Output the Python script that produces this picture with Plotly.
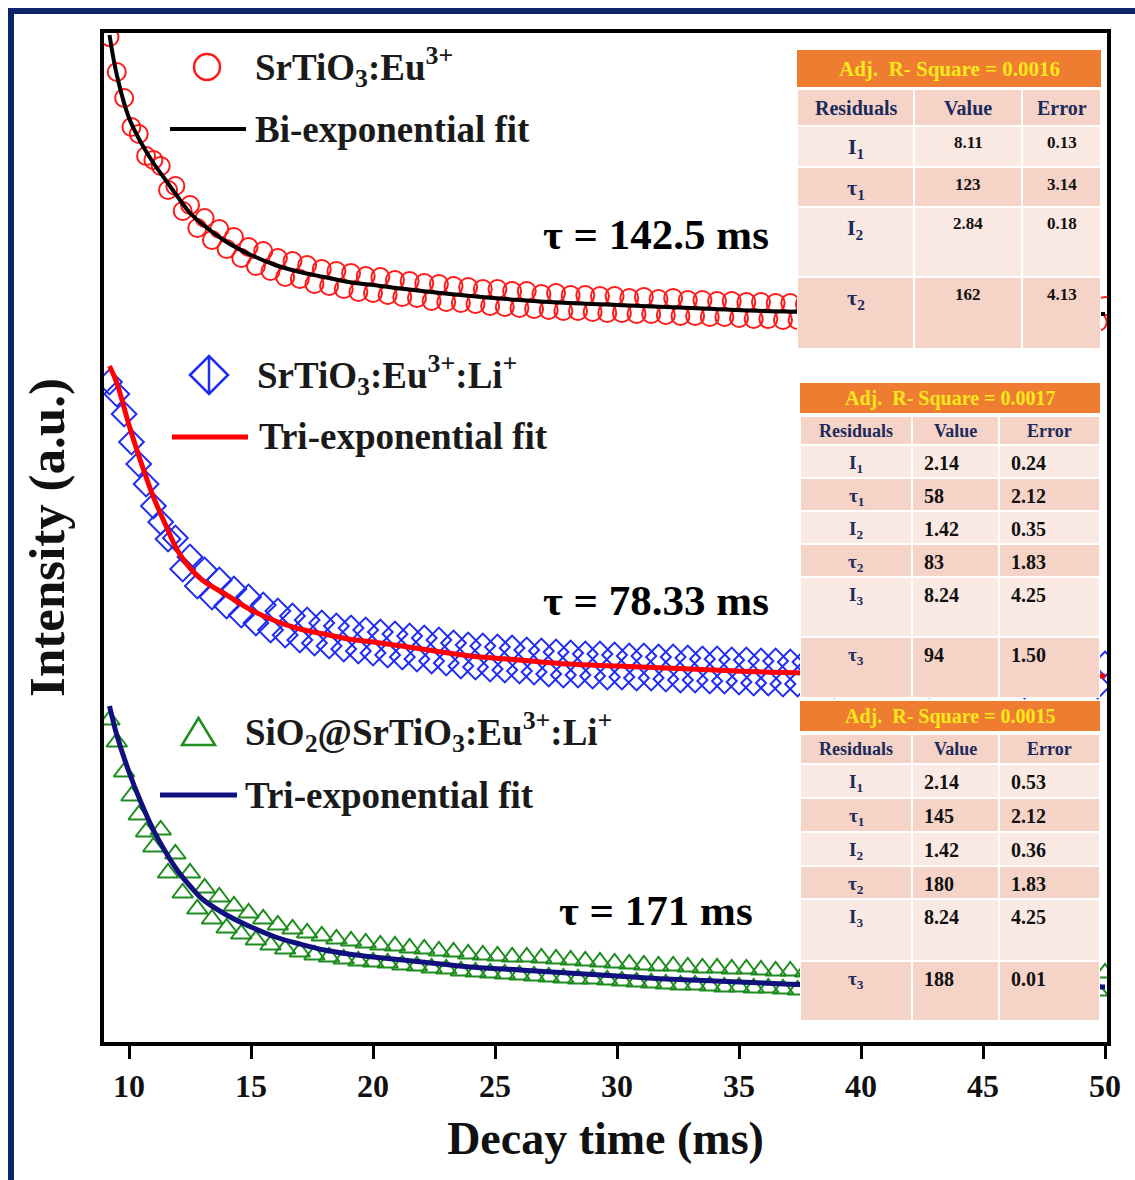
import plotly.graph_objects as go

# ---------------- data ----------------
TIME = [9.2, 9.5, 9.8, 10.1, 10.4, 10.7, 11.0, 11.3, 11.6, 11.9,
        12.2, 12.5, 12.8, 13.1, 13.4, 13.7, 14.0, 14.3, 14.6, 14.9,
        15.2, 15.5, 15.8, 16.1, 16.4, 16.7, 17.0, 17.3, 17.6, 17.9,
        18.2, 18.5, 18.8, 19.1, 19.4, 19.7, 20.0, 20.3, 20.6, 20.9,
        21.2, 21.5, 21.8, 22.1, 22.4, 22.7, 23.0, 23.3, 23.6, 23.9,
        24.2, 24.5, 24.8, 25.1, 25.4, 25.7, 26.0, 26.3, 26.6, 26.9,
        27.2, 27.5, 27.8, 28.1, 28.4, 28.7, 29.0, 29.3, 29.6, 29.9,
        30.2, 30.5, 30.8, 31.1, 31.4, 31.7, 32.0, 32.3, 32.6, 32.9,
        33.2, 33.5, 33.8, 34.1, 34.4, 34.7, 35.0, 35.3, 35.6, 35.9,
        36.2, 36.5, 36.8, 37.1, 37.4, 37.7,
        38.9, 40.7, 42.8, 44.9, 46.7, 48.8, 49.7, 50.0]

SRTIO3_EU = [1005, 970, 944, 915, 908, 886, 882, 876, 852, 856,
             831, 837, 814, 824, 802, 813, 793, 805, 784, 795,
             776, 791, 771, 784, 765, 781, 763, 777, 758, 773,
             756, 771, 753, 769, 750, 766, 749, 765, 747, 762,
             745, 761, 744, 759, 741, 758, 740, 756, 739, 755,
             738, 753, 736, 753, 735, 751, 734, 751, 733, 748,
             732, 749, 731, 747, 731, 747, 730, 746, 729, 746,
             729, 744, 728, 745, 728, 743, 727, 744, 726, 742,
             726, 742, 725, 741, 725, 741, 724, 740, 723, 740,
             723, 739, 722, 739, 722, 738,
             721, 737, 721, 737, 720, 737, 720, 736]

SRTIO3_EU_LI = [660, 648, 628, 600, 578, 558, 536, 520, 503, 504,
                473, 485, 456, 472, 445, 462, 436, 453, 427, 445,
                419, 437, 412, 431, 407, 426, 402, 422, 399, 419,
                396, 416, 393, 414, 391, 412, 389, 410, 387, 408,
                385, 406, 383, 404, 381, 402, 379, 399, 376, 397,
                375, 396, 373, 395, 372, 394, 371, 392, 370, 391,
                368, 390, 367, 389, 367, 388, 366, 388, 365, 387,
                365, 386, 364, 386, 364, 385, 363, 385, 362, 384,
                362, 383, 361, 383, 361, 382, 360, 382, 359, 381,
                359, 381, 358, 380, 358, 380,
                357, 379, 357, 379, 356, 378, 356, 378]

SIO2_SRTIO3 = [322, 300, 270, 246, 227, 210, 195, 212, 169, 188,
               149, 169, 133, 154, 123, 145, 114, 136, 108, 129,
               102, 123, 97, 117, 93, 113, 90, 109, 87, 106,
               85, 103, 83, 101, 81, 99, 80, 97, 79, 96,
               77, 94, 76, 93, 74, 91, 73, 90, 71, 88,
               70, 87, 69, 86, 68, 85, 67, 85, 66, 84,
               65, 83, 64, 82, 63, 81, 63, 80, 62, 79,
               61, 78, 60, 77, 59, 76, 58, 76, 57, 75,
               57, 74, 56, 74, 55, 73, 55, 73, 54, 72,
               54, 71, 53, 71, 52, 70,
               52, 70, 51, 69, 51, 69, 51, 69]

FIT_TIME = [9.2, 9.5, 10, 10.5, 11, 11.5, 12, 12.5, 13, 14, 15, 16, 17, 18, 19, 20,
            22, 24, 26, 28, 30, 32, 34, 36, 38, 40, 42, 44, 46, 48, 50]
FIT_BI = [1007, 967, 924, 899, 879, 862, 845, 829, 818, 800, 787, 777, 770, 765, 760, 757,
          751, 746, 742, 739, 737, 735, 733, 731, 730, 729, 729, 728, 728, 728, 728]
FIT_TRI_LI = [676, 659, 617, 579, 545, 517, 491, 474, 462, 447, 432, 421, 413, 408, 403, 400,
              393, 386, 382, 378, 376, 374, 372, 370, 369, 368, 368, 367, 367, 366, 366]
FIT_TRI_SIO2 = [336, 307, 270, 239, 212, 190, 171, 156, 143, 127, 115, 105, 98, 92, 88, 85,
                80, 75, 72, 69, 66, 63, 61, 59, 57, 56, 56, 55, 55, 55, 55]

X_TICKS = [10, 15, 20, 25, 30, 35, 40, 45, 50]

SAMPLE_NAMES = ["SrTiO<sub>3</sub>:Eu<sup>3+</sup>",
                "SrTiO<sub>3</sub>:Eu<sup>3+</sup>:Li<sup>+</sup>",
                "SiO<sub>2</sub>@SrTiO<sub>3</sub>:Eu<sup>3+</sup>:Li<sup>+</sup>"]
FIT_NAMES = ["Bi-exponential fit", "Tri-exponential fit", "Tri-exponential fit"]
TAU_LABELS = ["τ = 142.5 ms", "τ = 78.33 ms", "τ = 171 ms"]

TABLE_TITLES = ["Adj.\u00a0\u00a0R- Square = 0.0016",
                "Adj.\u00a0\u00a0R- Square = 0.0017",
                "Adj.\u00a0\u00a0R- Square = 0.0015"]
TABLE_HEAD = ["Residuals", "Value", "Error"]
T1_PARAMS = ["I<sub>1</sub>", "τ<sub>1</sub>", "I<sub>2</sub>", "τ<sub>2</sub>"]
T1_VALUES = ["8.11", "123", "2.84", "162"]
T1_ERRORS = ["0.13", "3.14", "0.18", "4.13"]
T2_PARAMS = ["I<sub>1</sub>", "τ<sub>1</sub>", "I<sub>2</sub>", "τ<sub>2</sub>",
             "I<sub>3</sub>", "τ<sub>3</sub>"]
T2_VALUES = ["2.14", "58", "1.42", "83", "8.24", "94"]
T2_ERRORS = ["0.24", "2.12", "0.35", "1.83", "4.25", "1.50"]
T3_PARAMS = T2_PARAMS
T3_VALUES = ["2.14", "145", "1.42", "180", "8.24", "188"]
T3_ERRORS = ["0.53", "2.12", "0.36", "1.83", "4.25", "0.01"]

# ---------------- styling / layout helpers ----------------
FIG_W, FIG_H = 1135, 1180
PL, PT, PW, PH = 104, 33, 1003, 1009
SERIF = "Liberation Serif, Times New Roman, serif"
NAVY_TXT = "#1c2a5c"
TXT = "#1a1a1a"


def fx(p):
    return (p - PL) / PW


def fy(p):
    return (PT + PH - p) / PH


def bold(s):
    return "<b>" + s + "</b>"


fig = go.Figure()

# data + fits
fig.add_trace(go.Scatter(x=TIME, y=SRTIO3_EU, mode="markers", showlegend=False,
                         marker=dict(symbol="circle-open", size=18, color="#ff1a1a",
                                     line=dict(width=2, color="#ff1a1a"))))
fig.add_trace(go.Scatter(x=FIT_TIME, y=FIT_BI, mode="lines", line_shape="spline",
                         showlegend=False, line=dict(color="#000000", width=4)))
fig.add_trace(go.Scatter(x=TIME, y=SRTIO3_EU_LI, mode="markers", showlegend=False,
                         marker=dict(symbol="diamond-open", size=19, color="#1f2cf5",
                                     line=dict(width=2, color="#1f2cf5"))))
fig.add_trace(go.Scatter(x=FIT_TIME, y=FIT_TRI_LI, mode="lines", line_shape="spline",
                         showlegend=False, line=dict(color="#ff0000", width=5)))
fig.add_trace(go.Scatter(x=TIME, y=SIO2_SRTIO3, mode="markers", showlegend=False,
                         marker=dict(symbol="triangle-up-open", size=18, color="#1e8c1e",
                                     line=dict(width=2, color="#1e8c1e"))))
fig.add_trace(go.Scatter(x=FIT_TIME, y=FIT_TRI_SIO2, mode="lines", line_shape="spline",
                         showlegend=False, line=dict(color="#10107e", width=5)))

shapes = []
annotations = []

# outer navy frame
shapes.append(dict(type="rect", xref="paper", yref="paper", layer="above",
                   x0=fx(11), x1=fx(1160), y0=fy(1210), y1=fy(11),
                   line=dict(color="#0b2566", width=6)))

# ---- custom legend ----
shapes.append(dict(type="circle", xref="paper", yref="paper", layer="above",
                   x0=fx(194), x1=fx(220), y0=fy(80), y1=fy(54),
                   line=dict(color="#ff1a1a", width=2.5)))
shapes.append(dict(type="line", xref="paper", yref="paper", layer="above",
                   x0=fx(170), x1=fx(246), y0=fy(129), y1=fy(129),
                   line=dict(color="#000000", width=4)))
dpath = "M {a},{b} L {c},{d} L {e},{b} L {c},{f} Z M {c},{d} L {c},{f}".format(
    a=fx(190), b=fy(375), c=fx(209), d=fy(356), e=fx(228), f=fy(394))
shapes.append(dict(type="path", xref="paper", yref="paper", layer="above", path=dpath,
                   line=dict(color="#1f2cf5", width=2.5)))
shapes.append(dict(type="line", xref="paper", yref="paper", layer="above",
                   x0=fx(172), x1=fx(248), y0=fy(437), y1=fy(437),
                   line=dict(color="#ff0000", width=5)))
tpath = "M {a},{b} L {c},{b} L {m},{t} Z".format(a=fx(182), b=fy(745), c=fx(215),
                                                 m=fx(198.5), t=fy(718))
shapes.append(dict(type="path", xref="paper", yref="paper", layer="above", path=tpath,
                   line=dict(color="#1e8c1e", width=2.5)))
shapes.append(dict(type="line", xref="paper", yref="paper", layer="above",
                   x0=fx(160), x1=fx(237), y0=fy(795), y1=fy(795),
                   line=dict(color="#10107e", width=5)))

legend_pos = [((253, 67), (253, 129)), ((255, 375), (257, 437)), ((243, 732), (243, 795))]
for name, fit_name, (p1, p2) in zip(SAMPLE_NAMES, FIT_NAMES, legend_pos):
    annotations.append(dict(xref="paper", yref="paper", x=fx(p1[0]), y=fy(p1[1]),
                            xanchor="left", yanchor="middle", showarrow=False, text=name,
                            font=dict(family=SERIF, size=37, color=TXT, weight="bold")))
    annotations.append(dict(xref="paper", yref="paper", x=fx(p2[0]), y=fy(p2[1]),
                            xanchor="left", yanchor="middle", showarrow=False,
                            text=bold(fit_name),
                            font=dict(family=SERIF, size=37, color=TXT, weight="bold")))

# ---- lifetime labels ----
for lab, (cx, cy) in zip(TAU_LABELS, [(656, 235), (656, 600), (656, 910)]):
    annotations.append(dict(xref="paper", yref="paper", x=fx(cx), y=fy(cy),
                            xanchor="center", yanchor="middle", showarrow=False,
                            text=bold(lab),
                            font=dict(family=SERIF, size=43, color="#000000", weight="bold")))

# ---- fit tables ----
LIGHT = "#fbe9e3"
DARK = "#f6d3c7"
ORANGE = "#ee7d31"


def add_table(title, params, values, errors, head_top, head_bot, row_edges, col_edges,
              title_size, head_size, val_size, lab_size, val_dy, lab_dy, left_align):
    shapes.append(dict(type="rect", xref="paper", yref="paper", layer="above",
                       x0=fx(col_edges[0]), x1=fx(col_edges[-1]),
                       y0=fy(head_bot), y1=fy(head_top), fillcolor=ORANGE,
                       line=dict(width=0)))
    annotations.append(dict(xref="paper", yref="paper",
                            x=fx((col_edges[0] + col_edges[-1]) / 2),
                            y=fy((head_top + head_bot) / 2), xanchor="center",
                            yanchor="middle", showarrow=False, text=bold(title),
                            font=dict(family=SERIF, size=title_size, color="#fbe81c",
                                      weight="bold")))
    shapes.append(dict(type="rect", xref="paper", yref="paper", layer="above",
                       x0=fx(col_edges[0]), x1=fx(col_edges[-1]),
                       y0=fy(row_edges[-1]), y1=fy(head_bot), fillcolor="#ffffff",
                       line=dict(width=0)))
    for r in range(len(row_edges) - 1):
        fill = DARK if r % 2 == 0 else LIGHT
        for c in range(3):
            shapes.append(dict(type="rect", xref="paper", yref="paper", layer="above",
                               x0=fx(col_edges[c] + 1), x1=fx(col_edges[c + 1] - 1),
                               y0=fy(row_edges[r + 1] - 1), y1=fy(row_edges[r] + 1),
                               fillcolor=fill, line=dict(width=0)))
    hy = (row_edges[0] + row_edges[1]) / 2
    for c, h in enumerate(TABLE_HEAD):
        annotations.append(dict(xref="paper", yref="paper",
                                x=fx((col_edges[c] + col_edges[c + 1]) / 2), y=fy(hy),
                                xanchor="center", yanchor="middle", showarrow=False,
                                text=bold(h),
                                font=dict(family=SERIF, size=head_size, color=NAVY_TXT,
                                          weight="bold")))
    for i, (p, v, e) in enumerate(zip(params, values, errors)):
        top = row_edges[i + 1]
        annotations.append(dict(xref="paper", yref="paper",
                                x=fx((col_edges[0] + col_edges[1]) / 2), y=fy(top + lab_dy),
                                xanchor="center", yanchor="middle", showarrow=False, text=p,
                                font=dict(family=SERIF, size=lab_size, color=NAVY_TXT,
                                          weight="bold")))
        for c, t in ((1, v), (2, e)):
            if left_align:
                ax, anc = col_edges[c] + 10, "left"
            else:
                ax, anc = (col_edges[c] + col_edges[c + 1]) / 2, "center"
            annotations.append(dict(xref="paper", yref="paper", x=fx(ax), y=fy(top + val_dy),
                                    xanchor=anc, yanchor="middle", showarrow=False,
                                    text=bold(t),
                                    font=dict(family=SERIF, size=val_size, color="#111111",
                                              weight="bold")))


add_table(TABLE_TITLES[0], T1_PARAMS, T1_VALUES, T1_ERRORS, 50, 87,
          [89, 126, 167, 207, 277, 349], [797, 914, 1022, 1101],
          21, 20, 17, 22, 17, 22, False)
add_table(TABLE_TITLES[1], T2_PARAMS, T2_VALUES, T2_ERRORS, 383, 413,
          [416, 445, 478, 511, 544, 577, 637, 698], [800, 912, 999, 1100],
          20, 18, 20, 19, 18, 19, True)
add_table(TABLE_TITLES[2], T3_PARAMS, T3_VALUES, T3_ERRORS, 701, 731,
          [734, 764, 798, 832, 866, 899, 961, 1021], [800, 912, 999, 1100],
          20, 18, 20, 19, 18, 19, True)

fig.update_layout(
    width=FIG_W, height=FIG_H,
    margin=dict(l=PL, r=FIG_W - PL - PW, t=PT, b=FIG_H - PT - PH, autoexpand=False),
    paper_bgcolor="#ffffff", plot_bgcolor="#ffffff",
    font=dict(family=SERIF, color="#000000"),
    showlegend=False,
    shapes=shapes, annotations=annotations,
    xaxis=dict(range=[8.975, 50.08], tickvals=X_TICKS, ticktext=[str(v) for v in X_TICKS],
               showgrid=False, zeroline=False, showline=True, linewidth=4,
               linecolor="#000000", mirror=True, ticks="outside", ticklen=13,
               tickwidth=3, tickcolor="#000000", ticklabelstandoff=0,
               tickfont=dict(family=SERIF, size=32, color="#111111", weight="bold"),
               title=dict(text="Decay time (ms)", standoff=19,
                          font=dict(family=SERIF, size=46, color="#111111", weight="bold"))),
    yaxis=dict(range=[0, 1009], showticklabels=False, ticks="", showgrid=False,
               zeroline=False, showline=True, linewidth=4, linecolor="#000000",
               mirror=True,
               title=dict(text="Intensity (a.u.)", standoff=20,
                          font=dict(family=SERIF, size=51, color="#111111", weight="bold"))),
)

fig.write_html("out.html", config={"displayModeBar": False},
               post_script="document.body.style.margin='0';")
